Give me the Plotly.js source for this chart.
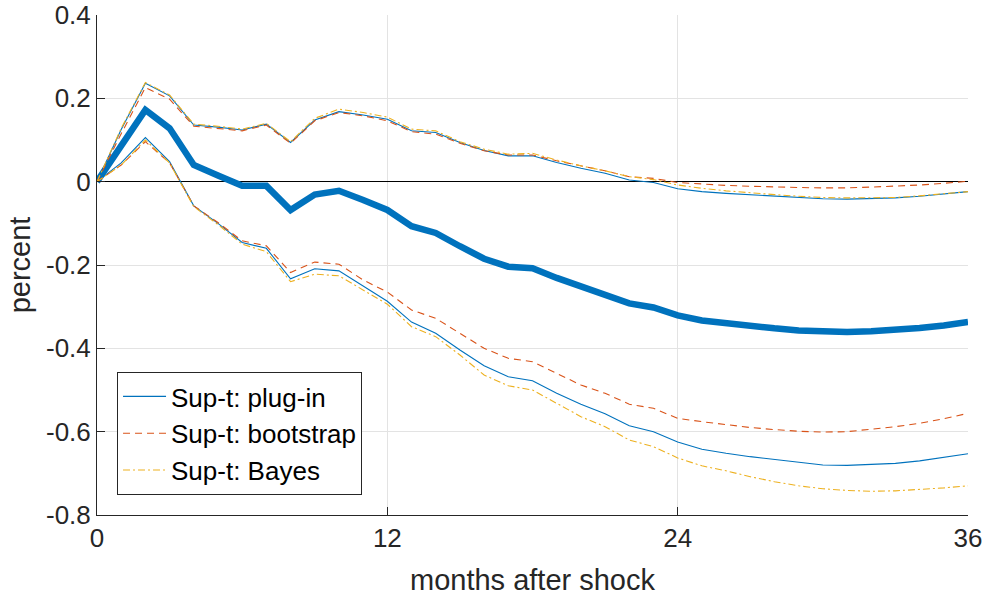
<!DOCTYPE html>
<html>
<head>
<meta charset="utf-8">
<script src="https://cdn.plot.ly/plotly-3.0.1.min.js"></script>
<style>html,body{margin:0;padding:0;background:#fff;}#chart{width:986px;height:596px;}</style>
</head>
<body>
<div id="chart"></div>
<script>
const months = Array.from({length: 37}, (_, i) => i);

const pointEstimate = [0, 0.086, 0.172, 0.128, 0.040, 0.015, -0.010, -0.010, -0.068, -0.031, -0.022, -0.044, -0.068, -0.107, -0.123, -0.155, -0.185, -0.204, -0.208, -0.231, -0.252, -0.271, -0.292, -0.302, -0.321, -0.333, -0.340, -0.347, -0.352, -0.357, -0.360, -0.361, -0.359, -0.356, -0.351, -0.345, -0.337];

const plugInUpper = [0, 0.125, 0.236, 0.206, 0.136, 0.131, 0.124, 0.138, 0.094, 0.148, 0.168, 0.160, 0.150, 0.122, 0.118, 0.094, 0.075, 0.062, 0.062, 0.046, 0.032, 0.020, 0.004, -0.002, -0.017, -0.024, -0.028, -0.031, -0.034, -0.038, -0.041, -0.042, -0.041, -0.039, -0.035, -0.030, -0.024];
const plugInLower = [0, 0.045, 0.106, 0.048, -0.058, -0.100, -0.146, -0.160, -0.233, -0.209, -0.214, -0.250, -0.287, -0.337, -0.364, -0.404, -0.442, -0.468, -0.478, -0.508, -0.534, -0.557, -0.586, -0.600, -0.625, -0.642, -0.652, -0.660, -0.667, -0.674, -0.680, -0.681, -0.679, -0.676, -0.670, -0.662, -0.653];

const bootUpper = [0, 0.115, 0.226, 0.198, 0.133, 0.128, 0.122, 0.136, 0.092, 0.146, 0.166, 0.158, 0.146, 0.120, 0.114, 0.092, 0.074, 0.064, 0.064, 0.050, 0.038, 0.026, 0.012, 0.008, -0.002, -0.006, -0.009, -0.011, -0.013, -0.014, -0.015, -0.015, -0.013, -0.011, -0.008, -0.004, 0.001];
const bootLower = [0, 0.040, 0.096, 0.045, -0.058, -0.098, -0.142, -0.154, -0.218, -0.193, -0.198, -0.236, -0.265, -0.308, -0.328, -0.364, -0.400, -0.424, -0.432, -0.460, -0.488, -0.508, -0.534, -0.544, -0.568, -0.576, -0.583, -0.590, -0.595, -0.599, -0.601, -0.600, -0.594, -0.588, -0.580, -0.569, -0.556];

const bayesUpper = [0, 0.128, 0.238, 0.208, 0.138, 0.133, 0.126, 0.140, 0.096, 0.152, 0.174, 0.166, 0.155, 0.126, 0.122, 0.096, 0.078, 0.066, 0.068, 0.052, 0.038, 0.026, 0.012, 0.005, -0.008, -0.016, -0.022, -0.027, -0.031, -0.035, -0.038, -0.039, -0.039, -0.038, -0.034, -0.029, -0.024];
const bayesLower = [0, 0.040, 0.100, 0.045, -0.060, -0.103, -0.150, -0.168, -0.240, -0.222, -0.226, -0.260, -0.294, -0.348, -0.372, -0.416, -0.464, -0.490, -0.500, -0.532, -0.564, -0.588, -0.620, -0.636, -0.663, -0.682, -0.694, -0.708, -0.720, -0.730, -0.737, -0.741, -0.743, -0.742, -0.739, -0.735, -0.730];

const seriesNames = ['Sup-t: plug-in', 'Sup-t: bootstrap', 'Sup-t: Bayes'];
const xTickVals = [0, 12, 24, 36];
const xTickText = ['0', '12', '24', '36'];
const yTickVals = [0.4, 0.2, 0, -0.2, -0.4, -0.6, -0.8];
const yTickText = ['0.4', '0.2', '0', '-0.2', '-0.4', '-0.6', '-0.8'];

const blue = '#0072BD', orange = '#D95319', yellow = '#EDB120';

function band(y, name, color, dash, show) {
  return {x: months, y: y, type: 'scatter', mode: 'lines', name: name, legendgroup: name,
    showlegend: show, line: {color: color, width: 1.1, dash: dash}, hoverinfo: 'skip'};
}

const traces = [
  {x: months, y: pointEstimate, type: 'scatter', mode: 'lines', showlegend: false,
   line: {color: blue, width: 6.5}, hoverinfo: 'skip'},
  band(plugInUpper, seriesNames[0], blue, 'solid', true),
  band(plugInLower, seriesNames[0], blue, 'solid', false),
  band(bootUpper, seriesNames[1], orange, '7px,5px', true),
  band(bootLower, seriesNames[1], orange, '7px,5px', false),
  band(bayesUpper, seriesNames[2], yellow, '7px,3px,2px,3px', true),
  band(bayesLower, seriesNames[2], yellow, '7px,3px,2px,3px', false)
];

const fontFam = '"Liberation Sans", Arial, Helvetica, sans-serif';

const layout = {
  width: 986, height: 596,
  margin: {l: 97, r: 18, t: 15, b: 81},
  paper_bgcolor: '#fff', plot_bgcolor: '#fff',
  font: {family: fontFam, size: 26, color: '#262626'},
  showlegend: true,
  legend: {x: 0.023, y: 0.286, xanchor: 'left', yanchor: 'top',
    bgcolor: '#fff', bordercolor: '#262626', borderwidth: 1, itemwidth: 43,
    font: {family: fontFam, size: 26, color: '#000'}, tracegroupgap: 0},
  xaxis: {range: [0, 36], tickvals: xTickVals, ticktext: xTickText,
    showgrid: true, gridcolor: '#e3e3e3', gridwidth: 1,
    zeroline: false, showline: true, linecolor: '#262626', linewidth: 1,
    ticks: 'inside', ticklen: 8, tickcolor: '#262626',
    tickfont: {size: 26, color: '#262626'},
    title: {text: 'months after shock', font: {size: 29, color: '#262626'}, standoff: 20}},
  yaxis: {range: [-0.8, 0.4], tickvals: yTickVals, ticktext: yTickText,
    showgrid: true, gridcolor: '#e3e3e3', gridwidth: 1,
    zeroline: true, zerolinecolor: '#000', zerolinewidth: 1,
    showline: true, linecolor: '#262626', linewidth: 1,
    ticks: 'inside', ticklen: 8, tickcolor: '#262626',
    tickfont: {size: 26, color: '#262626'},
    title: {text: 'percent', font: {size: 29, color: '#262626'}, standoff: 6}}
};

Plotly.newPlot('chart', traces, layout, {staticPlot: true, displayModeBar: false});
</script>
</body>
</html>
